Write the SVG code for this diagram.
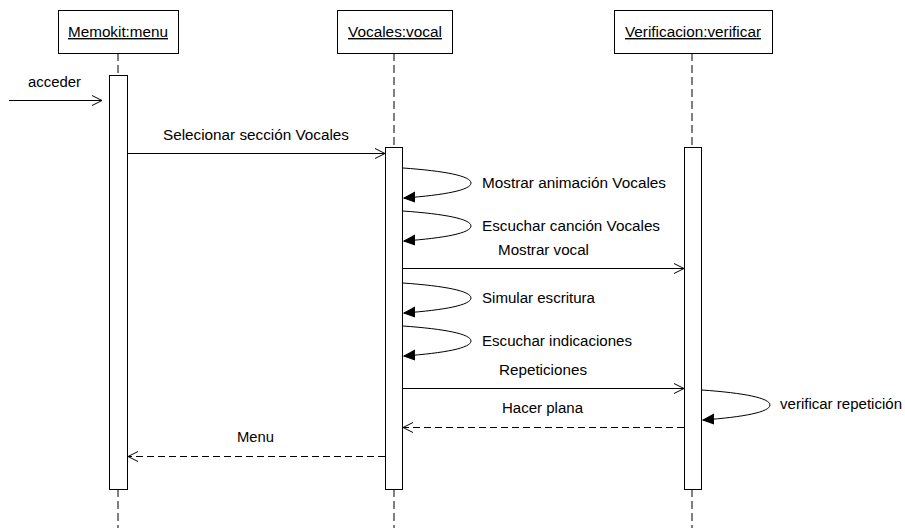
<svg xmlns="http://www.w3.org/2000/svg" width="905" height="528" viewBox="0 0 905 528">
<style>
text{font-family:"Liberation Sans",Arial,sans-serif;font-size:14px;fill:#000}
.box{fill:#fff;stroke:#000;stroke-width:1}
.life{stroke:#000;stroke-width:1;stroke-dasharray:8 4;fill:none}
.msg{stroke:#000;stroke-width:1;fill:none}
.ret{stroke:#000;stroke-width:1;fill:none;stroke-dasharray:7 4}
.u{text-decoration:underline}
</style>
<defs>
<marker id="open" markerWidth="12" markerHeight="12" refX="11" refY="6" orient="auto" markerUnits="userSpaceOnUse">
<path d="M1,1 L11,6 L1,11" fill="none" stroke="#000" stroke-width="1"/>
</marker>
<marker id="fill" markerWidth="12" markerHeight="12" refX="11" refY="6" orient="auto" markerUnits="userSpaceOnUse">
<path d="M0,1 L11,6 L0,11 Z" fill="#000" stroke="#000" stroke-width="1"/>
</marker>
</defs>

<g id="lifelines">
<line class="life" x1="118" y1="53" x2="118" y2="75"/>
<line class="life" x1="118" y1="489" x2="118" y2="528"/>
<line class="life" x1="394" y1="53" x2="394" y2="147"/>
<line class="life" x1="394" y1="489" x2="394" y2="528"/>
<line class="life" x1="692" y1="53" x2="692" y2="147"/>
<line class="life" x1="692" y1="489" x2="692" y2="528"/>
</g>

<g id="memokit">
<rect class="box" x="58.5" y="10.5" width="120" height="43"/>
<text class="u" x="68" y="37" textLength="100" lengthAdjust="spacingAndGlyphs">Memokit:menu</text>
<rect class="box" x="109.5" y="75.5" width="18" height="414"/>
</g>

<g id="vocales">
<rect class="box" x="337.5" y="10.5" width="115" height="43"/>
<text class="u" x="348" y="37" textLength="94" lengthAdjust="spacingAndGlyphs">Vocales:vocal</text>
<rect class="box" x="385.5" y="147.5" width="17" height="342"/>
</g>

<g id="verificacion">
<rect class="box" x="614.5" y="10.5" width="158" height="43"/>
<text class="u" x="625" y="37" textLength="136" lengthAdjust="spacingAndGlyphs">Verificacion:verificar</text>
<rect class="box" x="684.5" y="147.5" width="17" height="342"/>
</g>

<g id="connectors">
<line class="msg" x1="9" y1="100.5" x2="102" y2="100.5" marker-end="url(#open)"/>
<line class="msg" x1="128" y1="153.5" x2="385" y2="153.5" marker-end="url(#open)"/>
<path class="msg" d="M403,168 C445,171 471,176 471,183 C471,190 445,195 404,198" marker-end="url(#fill)"/>
<path class="msg" d="M403,211 C445,214 471,219 471,226 C471,233 445,238 404,241" marker-end="url(#fill)"/>
<line class="msg" x1="403" y1="268.5" x2="684" y2="268.5" marker-end="url(#open)"/>
<path class="msg" d="M403,283 C445,286 471,291 471,298 C471,305 445,310 404,313" marker-end="url(#fill)"/>
<path class="msg" d="M403,326 C445,329 471,334 471,341 C471,348 445,353 404,356" marker-end="url(#fill)"/>
<line class="msg" x1="403" y1="388.5" x2="684" y2="388.5" marker-end="url(#open)"/>
<path class="msg" d="M702,390 C744,393 770,398 770,405 C770,412 744,417 703,420" marker-end="url(#fill)"/>
<line class="ret" x1="684" y1="427.5" x2="403" y2="427.5" marker-end="url(#open)"/>
<line class="ret" x1="385" y1="456.5" x2="128" y2="456.5" marker-end="url(#open)"/>
</g>

<g id="labels">
<text x="28" y="87" textLength="53" lengthAdjust="spacingAndGlyphs">acceder</text>
<text x="163" y="140" textLength="186" lengthAdjust="spacingAndGlyphs">Selecionar sección Vocales</text>
<text x="482" y="188" textLength="184" lengthAdjust="spacingAndGlyphs">Mostrar animación Vocales</text>
<text x="482" y="231" textLength="178" lengthAdjust="spacingAndGlyphs">Escuchar canción Vocales</text>
<text x="498" y="255" textLength="91" lengthAdjust="spacingAndGlyphs">Mostrar vocal</text>
<text x="482" y="303" textLength="113" lengthAdjust="spacingAndGlyphs">Simular escritura</text>
<text x="482" y="346" textLength="150" lengthAdjust="spacingAndGlyphs">Escuchar indicaciones</text>
<text x="499" y="375" textLength="88" lengthAdjust="spacingAndGlyphs">Repeticiones</text>
<text x="502" y="413" textLength="81" lengthAdjust="spacingAndGlyphs">Hacer plana</text>
<text x="780" y="409" textLength="122" lengthAdjust="spacingAndGlyphs">verificar repetición</text>
<text x="237" y="442" textLength="37" lengthAdjust="spacingAndGlyphs">Menu</text>
</g>
</svg>
